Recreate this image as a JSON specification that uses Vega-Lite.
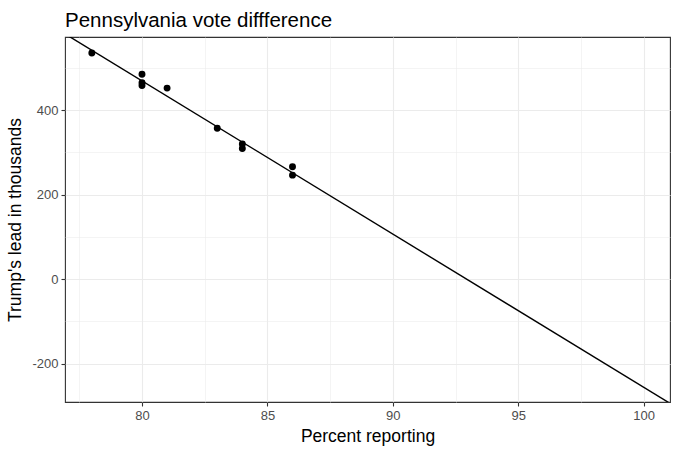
{
  "$schema": "https://vega.github.io/schema/vega-lite/v6.json",
  "autosize": {"type": "none"},
  "width": 605,
  "height": 365,
  "padding": {"left": 65, "top": 37, "right": 10, "bottom": 51},
  "background": "white",
  "title": {"text": "Pennsylvania vote diffference", "anchor": "start", "frame": "group", "fontSize": 20.5, "font": "Liberation Sans", "fontWeight": "normal", "color": "#000000", "baseline": "bottom", "offset": 9, "dy": 23},
  "config": {
    "font": "Liberation Sans",
    "view": {"stroke": "#333333", "strokeWidth": 1.1},
    "axis": {"gridColor": "#ebebeb", "gridWidth": 1.1, "domain": false, "tickColor": "#333333", "tickSize": 4, "tickWidth": 1.1, "labelColor": "#4d4d4d", "labelFontSize": 13, "labelFont": "Liberation Sans", "titleFont": "Liberation Sans", "titleFontSize": 17.5, "titleFontWeight": "normal", "titleColor": "#000000"}
  },
  "data": {"values": [
    {"pct": 78, "lead": 535},
    {"pct": 80, "lead": 485},
    {"pct": 80, "lead": 465},
    {"pct": 80, "lead": 458},
    {"pct": 81, "lead": 452},
    {"pct": 83, "lead": 357},
    {"pct": 84, "lead": 320},
    {"pct": 84, "lead": 309},
    {"pct": 86, "lead": 266},
    {"pct": 86, "lead": 246}
  ]},
  "resolve": {"axis": {"x": "independent", "y": "independent"}},
  "layer": [
    {
      "transform": [{"regression": "lead", "on": "pct", "extent": [76.5, 101.5]}],
      "mark": {"type": "line", "color": "#000000", "strokeWidth": 1.4, "clip": true},
      "encoding": {
        "x": {"field": "pct", "type": "quantitative", "scale": {"domain": [76.93, 101.05], "nice": false, "zero": false},
              "axis": {"orient": "bottom", "values": [77.5, 82.5, 87.5, 92.5, 97.5], "labels": false, "ticks": false, "title": null, "grid": true, "gridWidth": 0.55, "gridColor": "#ebebeb"}},
        "y": {"field": "lead", "type": "quantitative", "scale": {"domain": [-291, 573], "nice": false, "zero": false},
              "axis": {"orient": "left", "values": [-100, 100, 300, 500], "labels": false, "ticks": false, "title": null, "grid": true, "gridWidth": 0.55, "gridColor": "#ebebeb"}}
      }
    },
    {
      "mark": {"type": "circle", "color": "#000000", "opacity": 1, "size": 48},
      "encoding": {
        "x": {"field": "pct", "type": "quantitative",
              "axis": {"orient": "bottom", "values": [80, 85, 90, 95, 100], "title": "Percent reporting", "grid": true, "labelPadding": 3, "titlePadding": 5}},
        "y": {"field": "lead", "type": "quantitative",
              "axis": {"orient": "left", "values": [-200, 0, 200, 400], "title": "Trump's lead in thousands", "grid": true, "labelExpr": "'' + datum.value", "labelPadding": 3, "titlePadding": 7}}
      }
    }
  ]
}
